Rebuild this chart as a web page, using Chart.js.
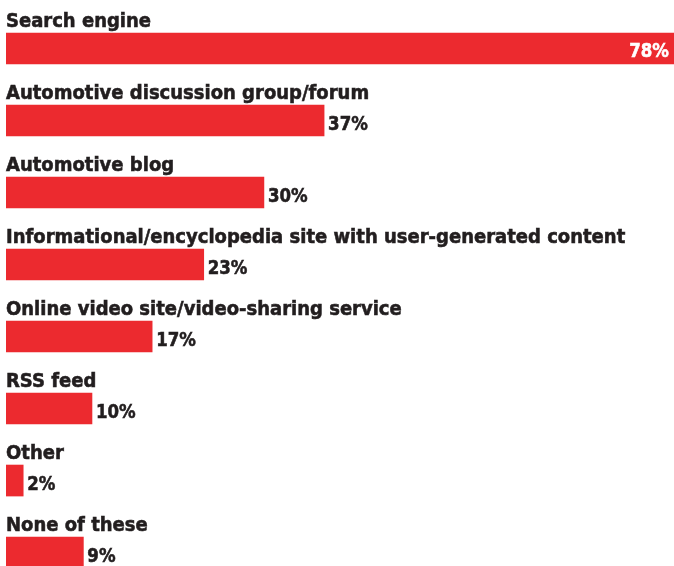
<!DOCTYPE html>
<html>
<head>
<meta charset="utf-8">
<script src="https://cdn.jsdelivr.net/npm/chart.js@4/dist/chart.umd.min.js"></script>
<style>
  html, body { margin: 0; padding: 0; background: #fff; }
  #wrap { width: 674px; height: 566px; }
</style>
</head>
<body>
<div id="wrap"><canvas id="chart"></canvas></div>
<script>
// Fuentes de información usadas (porcentaje de encuestados)
var categories = [
    'Search engine',
    'Automotive discussion group/forum',
    'Automotive blog',
    'Informational/encyclopedia site with user-generated content',
    'Online video site/video-sharing service',
    'RSS feed',
    'Other',
    'None of these'
];
var values = [78, 37, 30, 23, 17, 10, 2, 9];
var valueLabels = ['78%', '37%', '30%', '23%', '17%', '10%', '2%', '9%'];

var barRed = '#ec2a2f';
var textDark = '#221e1f';
var labelFont = 'bold 20px "DejaVu Sans"';

// Dibuja texto comprimido horizontalmente y algo más grueso
function drawNarrow(ctx, text, x, y, sx, align, color) {
    ctx.save();
    ctx.translate(x, y);
    ctx.scale(sx, 1);
    ctx.textAlign = align;
    ctx.fillStyle = color;
    ctx.strokeStyle = color;
    ctx.lineWidth = 0.6;
    ctx.fillText(text, 0, 0);
    ctx.strokeText(text, 0, 0);
    ctx.restore();
}

// Etiquetas encima de cada barra y valores al final
var labelsPlugin = {
    id: 'barLabels',
    afterDatasetsDraw: function (chart) {
        var ctx = chart.ctx;
        var meta = chart.getDatasetMeta(0);
        var maxVal = Math.max.apply(null, values);
        ctx.save();
        ctx.font = labelFont;
        ctx.textBaseline = 'alphabetic';
        meta.data.forEach(function (bar, i) {
            var top = bar.y - bar.height / 2;
            var w = ctx.measureText(categories[i]).width;
            var sx = Math.min(0.9, 627 / w);
            drawNarrow(ctx, categories[i], 6, top - 6, sx, 'left', textDark);

            if (values[i] === maxVal) {
                drawNarrow(ctx, valueLabels[i], Math.min(bar.x, chart.width) - 5, bar.y + 8.5, 0.83, 'right', '#fff');
            } else {
                drawNarrow(ctx, valueLabels[i], bar.x + 4, bar.y + 9, 0.83, 'left', textDark);
            }
        });
        ctx.restore();
    }
};

var points = values.map(function (v, i) { return { x: v, y: i }; });

new Chart(document.getElementById('chart').getContext('2d'), {
    type: 'bar',
    data: {
        datasets: [{
            data: points,
            backgroundColor: barRed,
            borderWidth: 0,
            barThickness: 31
        }]
    },
    options: {
        indexAxis: 'y',
        responsive: true,
        maintainAspectRatio: false,
        animation: false,
        layout: { padding: { left: 6, right: 0, top: 0, bottom: 0 } },
        scales: {
            x: { type: 'linear', min: 0, max: 77.7, display: false },
            y: { type: 'linear', min: -0.674, max: 7.187, reverse: true, offset: false, display: false }
        },
        plugins: {
            legend: { display: false },
            tooltip: { enabled: false }
        }
    },
    plugins: [labelsPlugin]
});
</script>
</body>
</html>
